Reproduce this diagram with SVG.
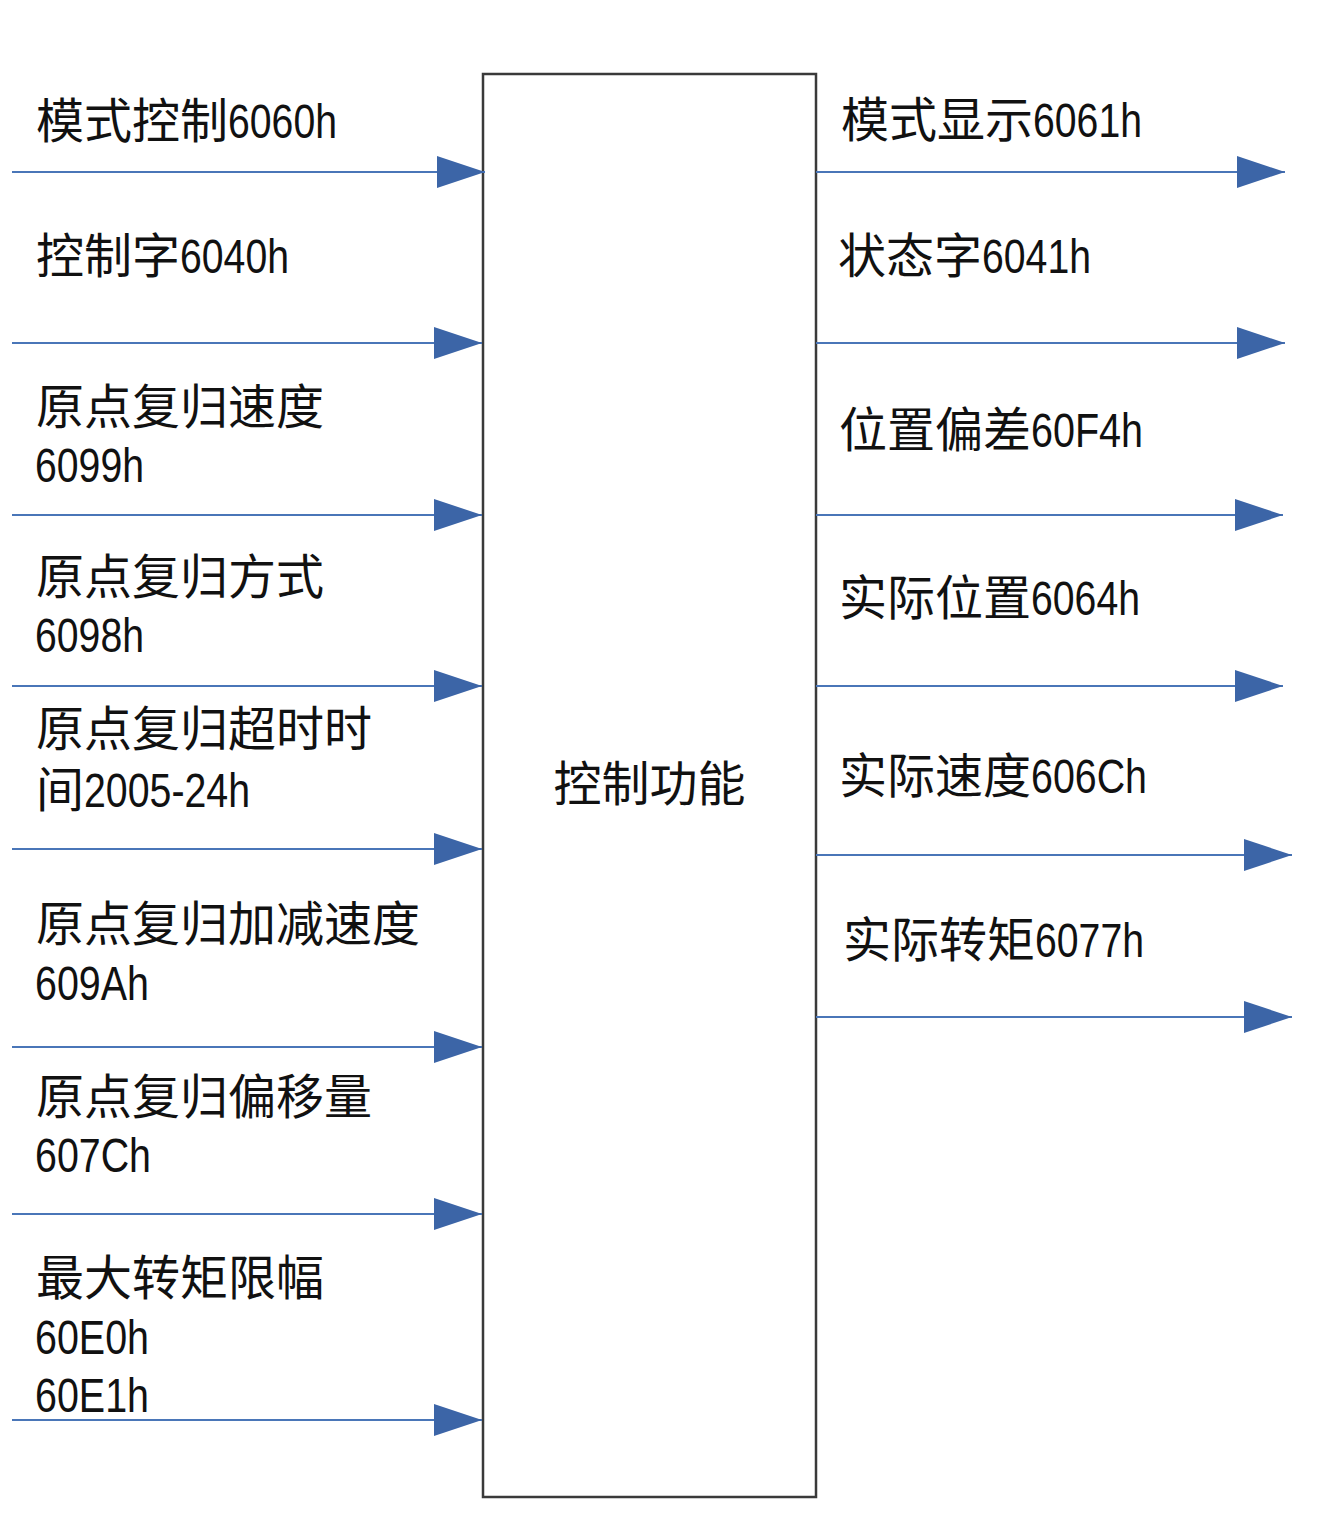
<svg xmlns="http://www.w3.org/2000/svg" width="1330" height="1523" viewBox="0 0 1330 1523">
<style>
.lbl{font-family:"Liberation Sans","Noto Sans CJK SC",sans-serif;font-size:48px;fill:#111}
.cjk{font-family:"Noto Sans CJK SC","Liberation Sans",sans-serif}
.lat{font-family:"Liberation Sans","Noto Sans CJK SC",sans-serif}
.conn{stroke:#4a76b8;stroke-width:2;fill:none;marker-end:url(#ah)}
</style>
<defs>
<marker id="ah" markerUnits="userSpaceOnUse" markerWidth="48" markerHeight="32" refX="48" refY="16" orient="auto">
<path d="M0,0 L48,16 L0,32 Z" fill="#3c65a7"/>
</marker>
</defs>
<rect width="1330" height="1523" fill="#fff"/>
<g id="box">
<rect x="483" y="74" width="333" height="1423" fill="#fff" stroke="#3a3a3a" stroke-width="2.5"/>
<text class="lbl cjk" x="649.5" y="801" text-anchor="middle">控制功能</text>
</g>
<g id="connectors">
<line class="conn" x1="12" y1="172" x2="485" y2="172"/>
<line class="conn" x1="12" y1="343" x2="482" y2="343"/>
<line class="conn" x1="12" y1="515" x2="482" y2="515"/>
<line class="conn" x1="12" y1="686" x2="482" y2="686"/>
<line class="conn" x1="12" y1="849" x2="482" y2="849"/>
<line class="conn" x1="12" y1="1047" x2="482" y2="1047"/>
<line class="conn" x1="12" y1="1214" x2="482" y2="1214"/>
<line class="conn" x1="12" y1="1420" x2="482" y2="1420"/>
<line class="conn" x1="816" y1="172" x2="1285" y2="172"/>
<line class="conn" x1="816" y1="343" x2="1285" y2="343"/>
<line class="conn" x1="816" y1="515" x2="1283" y2="515"/>
<line class="conn" x1="816" y1="686" x2="1283" y2="686"/>
<line class="conn" x1="816" y1="855" x2="1292" y2="855"/>
<line class="conn" x1="816" y1="1017" x2="1292" y2="1017"/>
</g>
<g id="in1"><text class="lbl" x="36" y="138"><tspan class="cjk">模式控制</tspan><tspan class="lat" textLength="109" lengthAdjust="spacingAndGlyphs">6060h</tspan></text></g>
<g id="in2"><text class="lbl" x="36" y="273"><tspan class="cjk">控制字</tspan><tspan class="lat" textLength="109" lengthAdjust="spacingAndGlyphs">6040h</tspan></text></g>
<g id="in3"><text class="lbl" x="36" y="424"><tspan class="cjk">原点复归速度</tspan><tspan class="lat" x="35" y="482" textLength="109" lengthAdjust="spacingAndGlyphs">6099h</tspan></text></g>
<g id="in4"><text class="lbl" x="36" y="594"><tspan class="cjk">原点复归方式</tspan><tspan class="lat" x="35" y="652" textLength="109" lengthAdjust="spacingAndGlyphs">6098h</tspan></text></g>
<g id="in5"><text class="lbl" x="36" y="746"><tspan>原点复归超时时</tspan><tspan x="36" y="807">间</tspan><tspan textLength="166" lengthAdjust="spacingAndGlyphs">2005-24h</tspan></text></g>
<g id="in6"><text class="lbl" x="36" y="941"><tspan class="cjk">原点复归加减速度</tspan><tspan class="lat" x="35" y="1000" textLength="114" lengthAdjust="spacingAndGlyphs">609Ah</tspan></text></g>
<g id="in7"><text class="lbl" x="36" y="1114"><tspan class="cjk">原点复归偏移量</tspan><tspan class="lat" x="35" y="1172" textLength="116" lengthAdjust="spacingAndGlyphs">607Ch</tspan></text></g>
<g id="in8"><text class="lbl" x="36" y="1295"><tspan class="cjk">最大转矩限幅</tspan><tspan class="lat" x="35" y="1354" textLength="114" lengthAdjust="spacingAndGlyphs">60E0h</tspan><tspan class="lat" x="35" y="1412" textLength="114" lengthAdjust="spacingAndGlyphs">60E1h</tspan></text></g>
<g id="out1"><text class="lbl" x="841" y="137"><tspan class="cjk">模式显示</tspan><tspan class="lat" textLength="109" lengthAdjust="spacingAndGlyphs">6061h</tspan></text></g>
<g id="out2"><text class="lbl" x="838" y="273"><tspan class="cjk">状态字</tspan><tspan class="lat" textLength="109" lengthAdjust="spacingAndGlyphs">6041h</tspan></text></g>
<g id="out3"><text class="lbl" x="839" y="447"><tspan class="cjk">位置偏差</tspan><tspan class="lat" textLength="112" lengthAdjust="spacingAndGlyphs">60F4h</tspan></text></g>
<g id="out4"><text class="lbl" x="839" y="615"><tspan class="cjk">实际位置</tspan><tspan class="lat" textLength="109" lengthAdjust="spacingAndGlyphs">6064h</tspan></text></g>
<g id="out5"><text class="lbl" x="839" y="793"><tspan class="cjk">实际速度</tspan><tspan class="lat" textLength="116" lengthAdjust="spacingAndGlyphs">606Ch</tspan></text></g>
<g id="out6"><text class="lbl" x="843" y="957"><tspan class="cjk">实际转矩</tspan><tspan class="lat" textLength="109" lengthAdjust="spacingAndGlyphs">6077h</tspan></text></g>
</svg>
